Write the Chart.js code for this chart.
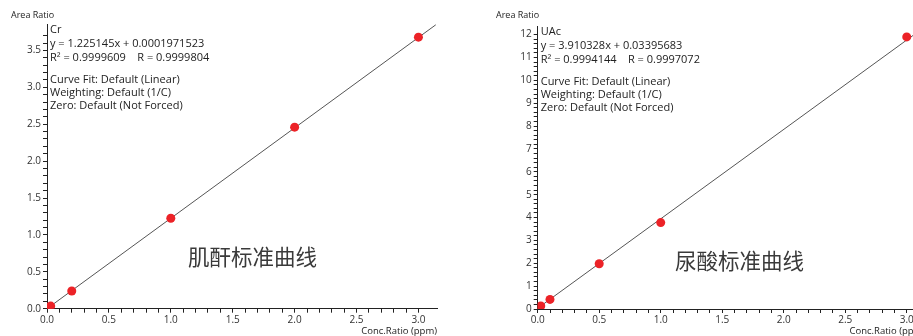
<!DOCTYPE html>
<html>
<head>
<meta charset="utf-8">
<script src="https://cdn.jsdelivr.net/npm/chart.js@4.4.1/dist/chart.umd.min.js"></script>
<style>
  html, body { margin: 0; padding: 0; background: #fff; }
  body { width: 913px; height: 336px; position: relative; overflow: hidden; }
  .panel { position: absolute; top: 0; height: 336px; overflow: hidden; }
  #p1 { left: 0; width: 460px; }
  #p2 { left: 490px; width: 423px; }
  #c1 { width: 456px; height: 336px; }
  #c2 { width: 450px; height: 336px; }
</style>
</head>
<body>
<div class="panel" id="p1"><canvas id="c1" width="456" height="336"></canvas></div>
<div class="panel" id="p2"><canvas id="c2" width="450" height="336"></canvas></div>
<script>
// 肌酐 (Cr) 标准点
const crX = [0.01, 0.03, 0.2, 1.0, 2.0, 3.0];
const crY = [0.02, 0.035, 0.24, 1.225, 2.46, 3.68];
const crFitX = [0, 3.14];
const crFitY = [0.0002, 3.847];
const crTexte = ['Cr', 'y = 1.225145x + 0.0001971523', 'R² = 0.9999609    R = 0.9999804',
                 'Curve Fit: Default (Linear)', 'Weighting: Default (1/C)', 'Zero: Default (Not Forced)'];

// 尿酸 (UAc) 标准点
const uacX = [0.01, 0.025, 0.1, 0.5, 1.0, 3.0];
const uacY = [0.06, 0.13, 0.42, 1.98, 3.78, 11.9];
const uacFitX = [0, 3.15];
const uacFitY = [0.034, 12.35];
const uacTexte = ['UAc', 'y = 3.910328x + 0.03395683', 'R² = 0.9994144    R = 0.9997072',
                  'Curve Fit: Default (Linear)', 'Weighting: Default (1/C)', 'Zero: Default (Not Forced)'];

const corPonto = '#ec2227';
const corLinha = '#555555';
const corEixo = '#222222';
const fonte = '"Open Sans", "Noto Sans", sans-serif';

function quaseMultiplo(v, passo) {
    const r = v / passo;
    return Math.abs(r - Math.round(r)) < 1e-6;
}

// plugin que escreve os textos do gráfico
const textosPlugin = {
    id: 'textos',
    afterDraw(chart, args, opts) {
        const ctx = chart.ctx;
        const area = chart.chartArea;
        ctx.save();
        ctx.fillStyle = '#222';
        ctx.textBaseline = 'middle';
        ctx.textAlign = 'left';
        ctx.font = '9px ' + fonte;
        ctx.fillText('Area Ratio', opts.areaX, 15);

        ctx.font = '11px ' + fonte;
        const ys = [0, 14, 28, 50, 63, 76];
        opts.linhas.forEach((t, i) => ctx.fillText(t, area.left + 3, opts.topo + ys[i]));

        ctx.font = '9.5px ' + fonte;
        ctx.textAlign = 'right';
        ctx.fillText('Conc.Ratio (ppm)', area.right, 331);

        ctx.font = '21.5px "Noto Sans CJK SC", sans-serif';
        ctx.fillStyle = '#3a3a3a';
        ctx.textAlign = 'left';
        ctx.fillText(opts.titulo, opts.tituloX, opts.tituloY);
        ctx.restore();
    }
};

function criarGrafico(id, dados) {
    const ctx = document.getElementById(id).getContext('2d');
    return new Chart(ctx, {
        type: 'scatter',
        data: {
            datasets: [{
                data: dados.x.map((v, i) => ({ x: v, y: dados.y[i] })),
                backgroundColor: corPonto,
                borderWidth: 0,
                pointRadius: 4.5,
                order: 1
            }, {
                type: 'line',
                data: dados.fitX.map((v, i) => ({ x: v, y: dados.fitY[i] })),
                borderColor: corLinha,
                borderWidth: 1,
                pointRadius: 0,
                fill: false,
                clip: false,
                order: 2
            }]
        },
        options: {
            responsive: false,
            animation: false,
            layout: { padding: { top: dados.topo, left: 0, right: dados.direita, bottom: 0 } },
            plugins: {
                legend: { display: false },
                tooltip: { enabled: false },
                textos: {
                    areaX: dados.areaX,
                    linhas: dados.linhas,
                    topo: dados.textoTopo,
                    titulo: dados.titulo,
                    tituloX: dados.tituloX,
                    tituloY: dados.tituloY
                }
            },
            scales: {
                x: {
                    type: 'linear',
                    min: 0,
                    max: dados.xMax,
                    afterFit(scale) { scale.height = 336 - dados.base; },
                    afterBuildTicks(scale) { scale.ticks = scale.ticks.filter(t => quaseMultiplo(t.value, 0.1)); },
                    ticks: {
                        stepSize: 0.1,
                        autoSkip: false,
                        maxRotation: 0,
                        padding: 1,
                        color: '#333',
                        font: { family: fonte, size: 10 },
                        callback: v => quaseMultiplo(v, 0.5) ? v.toFixed(1) : ''
                    },
                    grid: { drawOnChartArea: false, tickLength: 4, tickColor: corEixo },
                    border: { color: corEixo, width: 1 }
                },
                y: {
                    type: 'linear',
                    min: 0,
                    max: dados.yMax,
                    afterFit(scale) { scale.width = dados.eixoY; },
                    afterBuildTicks(scale) { scale.ticks = scale.ticks.filter(t => quaseMultiplo(t.value, dados.yPasso)); },
                    ticks: {
                        stepSize: dados.yPasso,
                        autoSkip: false,
                        padding: 2,
                        color: '#333',
                        font: { family: fonte, size: 10 },
                        callback: v => quaseMultiplo(v, dados.yRotulo) ? v.toFixed(dados.casas) : ''
                    },
                    grid: { drawOnChartArea: false, tickLength: 4, tickColor: corEixo },
                    border: { color: corEixo, width: 1 }
                }
            }
        },
        plugins: [textosPlugin]
    });
}

window.onload = function() {
    criarGrafico('c1', {
        x: crX, y: crY, fitX: crFitX, fitY: crFitY,
        xMax: 3.15, yMax: 3.85, yPasso: 0.1, yRotulo: 0.5, casas: 1,
        topo: 24.6, base: 308.7, direita: 19, eixoY: 47,
        areaX: 11, linhas: crTexte, textoTopo: 30,
        titulo: '肌酐标准曲线', tituloX: 188, tituloY: 257
    });
    criarGrafico('c2', {
        x: uacX, y: uacY, fitX: uacFitX, fitY: uacFitY,
        xMax: 3.15, yMax: 12.35, yPasso: 0.2, yRotulo: 1, casas: 0,
        topo: 26.6, base: 309, direita: 14.8, eixoY: 47.7,
        areaX: 6, linhas: uacTexte, textoTopo: 32,
        titulo: '尿酸标准曲线', tituloX: 185, tituloY: 261
    });
};
</script>
</body>
</html>
